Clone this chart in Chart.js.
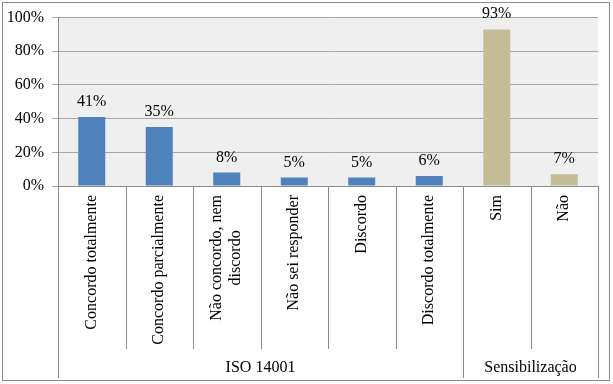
<!DOCTYPE html>
<html>
<head>
<meta charset="utf-8">
<script src="https://cdn.jsdelivr.net/npm/chart.js@4"></script>
<style>
  html, body { margin: 0; padding: 0; background: #fff; }
  #wrap { width: 613px; height: 384px; position: relative; }
</style>
</head>
<body>
<div id="wrap"><canvas id="grafico"></canvas></div>
<script>
// Dados do gráfico
const categorias = [
    ['Concordo totalmente'],
    ['Concordo parcialmente'],
    ['Não concordo, nem', 'discordo'],
    ['Não sei responder'],
    ['Discordo'],
    ['Discordo totalmente'],
    ['Sim'],
    ['Não']
];
const valores = [41, 35, 8, 5, 5, 6, 93, 7];
const grupos = ['ISO 14001', 'Sensibilização'];
const tamanhoGrupos = [6, 2];
const ticksY = [0, 20, 40, 60, 80, 100];

const FONTE = '"Liberation Serif", "Times New Roman", serif';
const coresGrupo = ['#4f81bd', '#c4bd97'];

// cor de cada barra conforme o grupo
const coresBarras = [];
tamanhoGrupos.forEach((n, g) => {
    for (let i = 0; i < n; i++) coresBarras.push(coresGrupo[g]);
});

// Fundo da área do gráfico, rótulos do eixo x, grupos e moldura
const pluginDesenho = {
    id: 'desenho',
    beforeDraw(chart) {
        const { ctx, chartArea: a } = chart;
        ctx.save();
        ctx.fillStyle = '#efefef';
        ctx.fillRect(a.left, a.top, a.right - a.left, a.bottom - a.top);
        ctx.restore();
    },
    afterDraw(chart) {
        const { ctx, chartArea: a } = chart;
        const x = chart.scales.x;
        const meta = chart.getDatasetMeta(0);
        const n = categorias.length;
        const passo = (a.right - a.left) / n;
        const fimCat = 349;
        const fimGrupo = 378;

        ctx.save();
        ctx.strokeStyle = '#8c8c8c';
        ctx.lineWidth = 1;

        // eixo x
        ctx.beginPath();
        ctx.moveTo(a.left, Math.round(a.bottom) + 0.5);
        ctx.lineTo(a.right, Math.round(a.bottom) + 0.5);
        ctx.stroke();

        // separadores das categorias
        let limites = [0];
        tamanhoGrupos.reduce((s, t) => { limites.push(s + t); return s + t; }, 0);
        for (let k = 0; k <= n; k++) {
            const px = Math.round(a.left + passo * k) + 0.5;
            const ate = limites.includes(k) ? fimGrupo : fimCat;
            ctx.beginPath();
            ctx.moveTo(px, a.bottom);
            ctx.lineTo(px, ate);
            ctx.stroke();
        }

        // rótulos das categorias (rotacionados)
        ctx.fillStyle = '#000';
        ctx.font = '16px ' + FONTE;
        ctx.textBaseline = 'middle';
        categorias.forEach((linhas, i) => {
            const cx = x.getPixelForValue(i);
            const topo = a.bottom + 9;
            const alturaLinha = 19;
            const larg = Math.max(...linhas.map(l => ctx.measureText(l).width));
            linhas.forEach((l, j) => {
                const off = (j - (linhas.length - 1) / 2) * alturaLinha;
                ctx.save();
                ctx.translate(cx + off, topo);
                ctx.rotate(-Math.PI / 2);
                ctx.textAlign = 'center';
                ctx.fillText(l, -larg / 2, 0);
                ctx.restore();
            });
        });

        // rótulos dos grupos
        ctx.textAlign = 'center';
        let ini = 0;
        grupos.forEach((g, gi) => {
            const x0 = a.left + passo * ini;
            const x1 = a.left + passo * (ini + tamanhoGrupos[gi]);
            ctx.fillText(g, (x0 + x1) / 2, 368);
            ini += tamanhoGrupos[gi];
        });

        // rótulos de dados
        ctx.textBaseline = 'alphabetic';
        meta.data.forEach((barra, i) => {
            ctx.fillText(valores[i] + '%', barra.x, barra.y - 11);
        });

        // moldura externa
        ctx.strokeStyle = '#8c8c8c';
        ctx.strokeRect(2.5, 2.5, 607, 378);
        ctx.restore();
    }
};

new Chart(document.getElementById('grafico'), {
    type: 'bar',
    data: {
        labels: categorias,
        datasets: [{
            data: valores,
            backgroundColor: coresBarras,
            barPercentage: 0.4,
            categoryPercentage: 1.0
        }]
    },
    options: {
        responsive: true,
        maintainAspectRatio: false,
        animation: false,
        layout: { padding: { left: 0, right: 15, top: 17, bottom: 0 } },
        plugins: {
            legend: { display: false },
            tooltip: { enabled: false }
        },
        scales: {
            x: {
                grid: { display: false, drawTicks: false },
                border: { display: false },
                ticks: { display: false },
                afterFit: s => { s.height = 384 - 186; }
            },
            y: {
                min: 0,
                max: 100,
                afterBuildTicks: s => { s.ticks = ticksY.map(v => ({ value: v })); },
                afterFit: s => { s.width = 58; },
                grid: { color: '#a6a6a6', tickLength: 6, drawTicks: true },
                border: { color: '#8c8c8c' },
                ticks: {
                    color: '#000',
                    padding: 8,
                    font: { family: FONTE, size: 16 },
                    callback: v => v + '%'
                }
            }
        }
    },
    plugins: [pluginDesenho]
});
</script>
</body>
</html>
